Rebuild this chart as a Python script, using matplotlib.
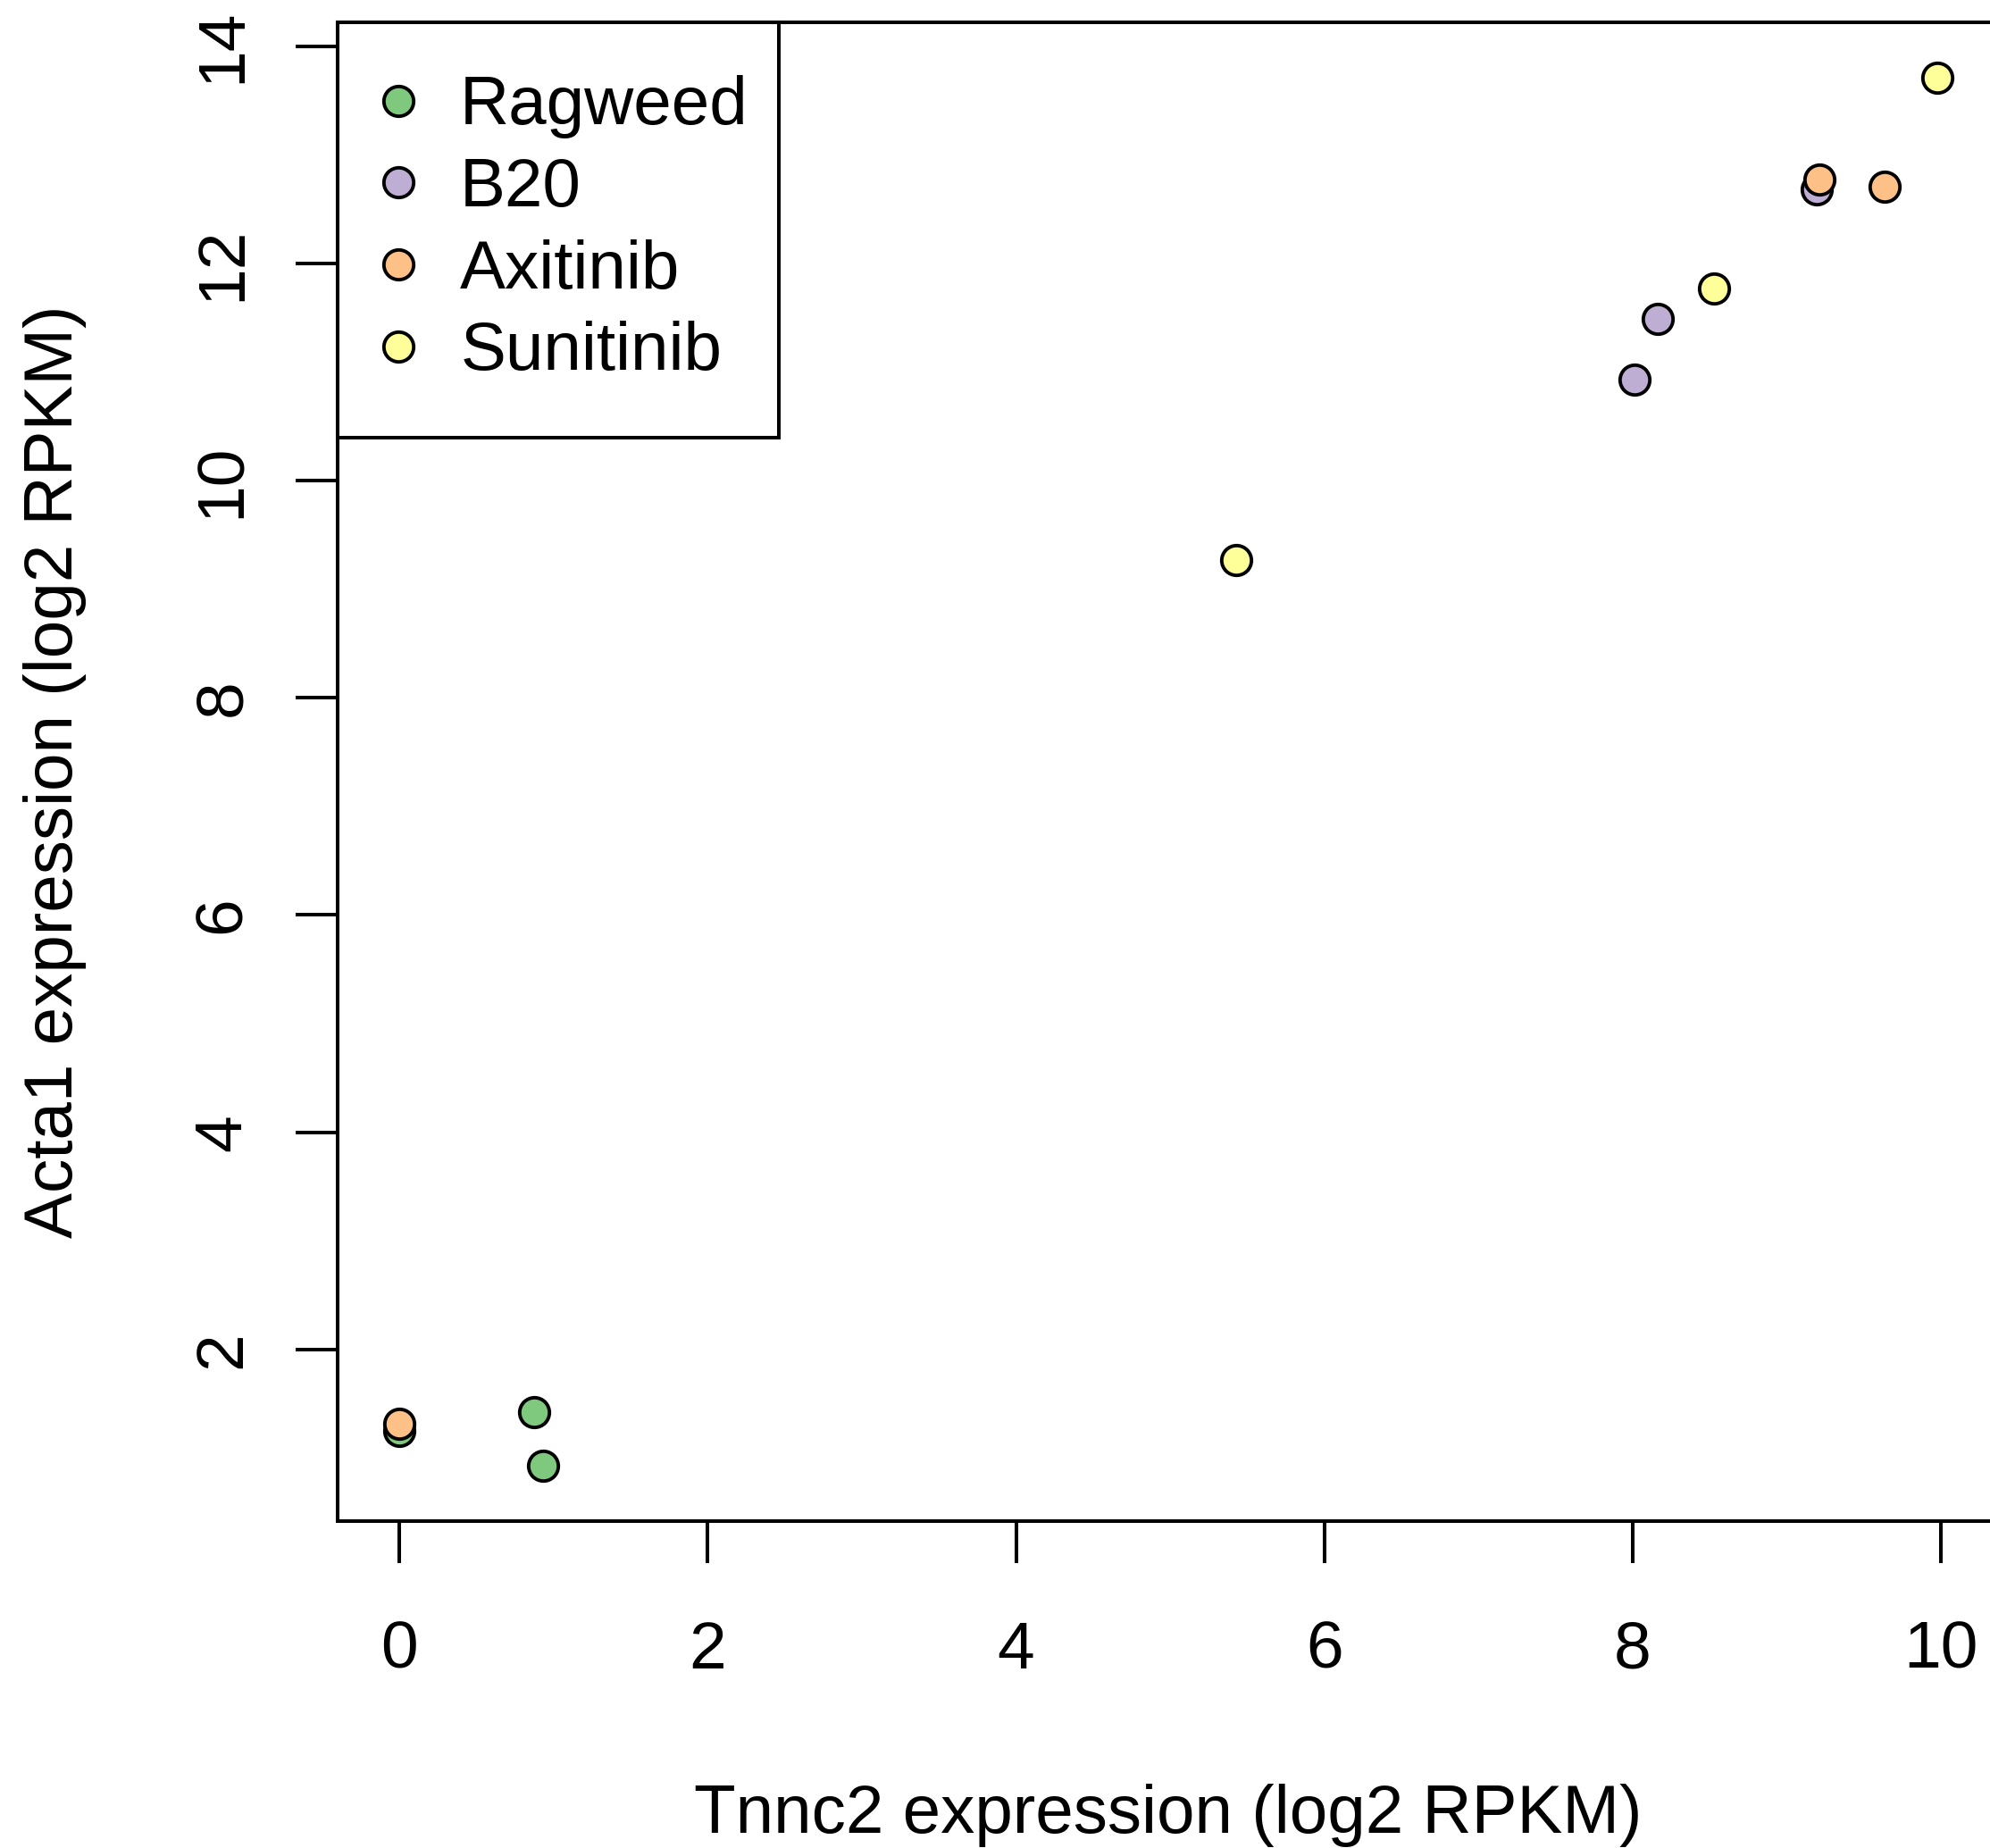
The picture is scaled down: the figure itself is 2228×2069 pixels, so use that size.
import matplotlib
matplotlib.use("Agg")
import matplotlib.pyplot as plt

plt.rcParams['font.family'] = ['Liberation Sans', 'DejaVu Sans']

# values (log2 RPKM)
groups = ['Ragweed', 'B20', 'Axitinib', 'Sunitinib']
colors = ['#7FC97F', '#BEAED4', '#FDC086', '#FFFF99']

ragweed_x = [0.0, 0.875, 0.933]
ragweed_y = [1.25, 1.42, 0.93]
b20_x = [8.011, 8.161, 9.193]
b20_y = [10.93, 11.49, 12.68]
axitinib_x = [0.0, 9.214, 9.637]
axitinib_y = [1.32, 12.77, 12.71]
sunitinib_x = [5.429, 8.526, 9.977]
sunitinib_y = [9.27, 11.77, 13.71]

xs = [ragweed_x, b20_x, axitinib_x, sunitinib_x]
ys = [ragweed_y, b20_y, axitinib_y, sunitinib_y]

xticks = [0, 2, 4, 6, 8, 10]
yticks = [2, 4, 6, 8, 10, 12, 14]

fig = plt.figure(figsize=(22.28, 20.69), dpi=100)
ax = fig.add_axes([0.16984, 0.17685, 0.83465, 0.81116])

for gx, gy, col, name in zip(xs, ys, colors, groups):
    ax.plot(gx, gy, 'o', ls='none', ms=24, mfc=col, mec='black', mew=2.8,
            label=name)

ax.set_xlim(-0.399, 10.376)
ax.set_ylim(0.419, 14.221)
ax.set_xticks(xticks)
ax.set_yticks(yticks)
ax.set_xticklabels([str(t) for t in xticks])
ax.set_yticklabels([str(t) for t in yticks])

for sp in ax.spines.values():
    sp.set_linewidth(2.9)
ax.tick_params(axis='both', length=33.8, width=2.9, labelsize=54)
ax.tick_params(axis='x', pad=46)
ax.tick_params(axis='y', pad=34, labelrotation=90)
for lab in ax.get_yticklabels():
    lab.set_va('center')

ax.set_xlabel('Tnnc2 expression (log2 RPKM)', fontsize=55, va='baseline')
ax.xaxis.set_label_coords(0.5, -0.2077)
ax.set_ylabel('Acta1 expression (log2 RPKM)', fontsize=55, va='center')
ax.yaxis.set_label_coords(-0.1704, 0.5)

leg = ax.legend(loc='upper left', bbox_to_anchor=(0, 0, 0.2654, 1),
                mode='expand', borderaxespad=0, fontsize=55,
                fancybox=False, framealpha=1, edgecolor='black',
                borderpad=0.78, handlelength=0.21, handletextpad=0.8,
                labelspacing=0.27)
leg.get_frame().set_linewidth(2.9)

fig.savefig('out.png', dpi=100)
